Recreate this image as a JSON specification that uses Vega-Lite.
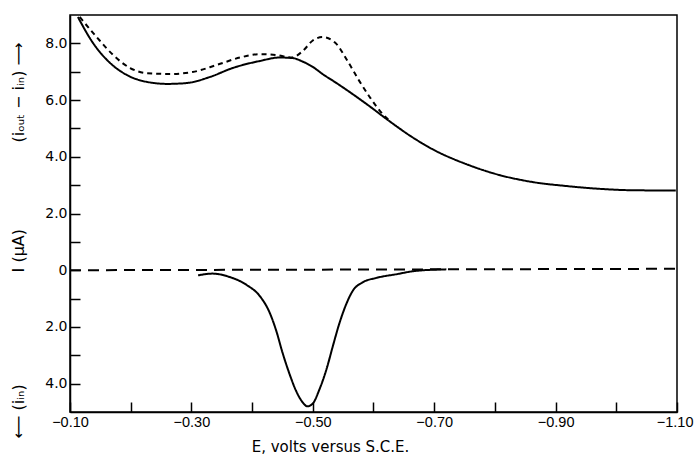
{
  "$schema": "https://vega.github.io/schema/vega-lite/v6.json",
  "width": 607,
  "height": 397,
  "autosize": {"type": "none"},
  "padding": {"left": 70, "top": 15, "right": 17, "bottom": 42},
  "background": "white",
  "config": {
    "view": {"stroke": "black", "strokeWidth": 1.5},
    "font": "DejaVu Sans",
    "axis": {
      "domainColor": "black", "domainWidth": 1.5,
      "tickColor": "black", "tickWidth": 1.5, "tickSize": -10,
      "labelColor": "black", "labelFont": "DejaVu Sans", "labelFontSize": 14,
      "titleColor": "black", "titleFont": "DejaVu Sans", "titleFontSize": 15, "titleFontWeight": "normal",
      "grid": false
    }
  },
  "data": {"values": [
    {"E": -0.113, "I": 8.93, "c": "outSolid"},
    {"E": -0.138, "I": 8.01, "c": "outSolid"},
    {"E": -0.166, "I": 7.31, "c": "outSolid"},
    {"E": -0.194, "I": 6.88, "c": "outSolid"},
    {"E": -0.227, "I": 6.64, "c": "outSolid"},
    {"E": -0.26, "I": 6.57, "c": "outSolid"},
    {"E": -0.292, "I": 6.6, "c": "outSolid"},
    {"E": -0.33, "I": 6.81, "c": "outSolid"},
    {"E": -0.368, "I": 7.13, "c": "outSolid"},
    {"E": -0.413, "I": 7.38, "c": "outSolid"},
    {"E": -0.445, "I": 7.5, "c": "outSolid"},
    {"E": -0.467, "I": 7.48, "c": "outSolid"},
    {"E": -0.483, "I": 7.36, "c": "outSolid"},
    {"E": -0.5, "I": 7.17, "c": "outSolid"},
    {"E": -0.516, "I": 6.92, "c": "outSolid"},
    {"E": -0.539, "I": 6.6, "c": "outSolid"},
    {"E": -0.561, "I": 6.28, "c": "outSolid"},
    {"E": -0.593, "I": 5.79, "c": "outSolid"},
    {"E": -0.626, "I": 5.26, "c": "outSolid"},
    {"E": -0.664, "I": 4.69, "c": "outSolid"},
    {"E": -0.697, "I": 4.27, "c": "outSolid"},
    {"E": -0.753, "I": 3.74, "c": "outSolid"},
    {"E": -0.807, "I": 3.36, "c": "outSolid"},
    {"E": -0.862, "I": 3.11, "c": "outSolid"},
    {"E": -0.917, "I": 2.97, "c": "outSolid"},
    {"E": -0.972, "I": 2.87, "c": "outSolid"},
    {"E": -1.026, "I": 2.82, "c": "outSolid"},
    {"E": -1.098, "I": 2.81, "c": "outSolid"},
    {"E": -0.116, "I": 8.93, "c": "outDashed"},
    {"E": -0.144, "I": 8.22, "c": "outDashed"},
    {"E": -0.171, "I": 7.59, "c": "outDashed"},
    {"E": -0.199, "I": 7.13, "c": "outDashed"},
    {"E": -0.227, "I": 6.95, "c": "outDashed"},
    {"E": -0.264, "I": 6.92, "c": "outDashed"},
    {"E": -0.302, "I": 6.99, "c": "outDashed"},
    {"E": -0.342, "I": 7.24, "c": "outDashed"},
    {"E": -0.38, "I": 7.5, "c": "outDashed"},
    {"E": -0.413, "I": 7.62, "c": "outDashed"},
    {"E": -0.44, "I": 7.59, "c": "outDashed"},
    {"E": -0.465, "I": 7.5, "c": "outDashed"},
    {"E": -0.483, "I": 7.72, "c": "outDashed"},
    {"E": -0.5, "I": 8.1, "c": "outDashed"},
    {"E": -0.516, "I": 8.22, "c": "outDashed"},
    {"E": -0.537, "I": 8.02, "c": "outDashed"},
    {"E": -0.558, "I": 7.35, "c": "outDashed"},
    {"E": -0.577, "I": 6.66, "c": "outDashed"},
    {"E": -0.595, "I": 6.07, "c": "outDashed"},
    {"E": -0.613, "I": 5.56, "c": "outDashed"},
    {"E": -0.628, "I": 5.24, "c": "outDashed"},
    {"E": -0.311, "I": -0.18, "c": "inSolid"},
    {"E": -0.335, "I": -0.12, "c": "inSolid"},
    {"E": -0.363, "I": -0.24, "c": "inSolid"},
    {"E": -0.391, "I": -0.52, "c": "inSolid"},
    {"E": -0.413, "I": -0.92, "c": "inSolid"},
    {"E": -0.429, "I": -1.5, "c": "inSolid"},
    {"E": -0.44, "I": -2.15, "c": "inSolid"},
    {"E": -0.45, "I": -2.9, "c": "inSolid"},
    {"E": -0.462, "I": -3.68, "c": "inSolid"},
    {"E": -0.473, "I": -4.28, "c": "inSolid"},
    {"E": -0.483, "I": -4.65, "c": "inSolid"},
    {"E": -0.491, "I": -4.8, "c": "inSolid"},
    {"E": -0.5, "I": -4.7, "c": "inSolid"},
    {"E": -0.511, "I": -4.2, "c": "inSolid"},
    {"E": -0.523, "I": -3.46, "c": "inSolid"},
    {"E": -0.533, "I": -2.68, "c": "inSolid"},
    {"E": -0.544, "I": -1.86, "c": "inSolid"},
    {"E": -0.556, "I": -1.15, "c": "inSolid"},
    {"E": -0.566, "I": -0.72, "c": "inSolid"},
    {"E": -0.582, "I": -0.43, "c": "inSolid"},
    {"E": -0.605, "I": -0.27, "c": "inSolid"},
    {"E": -0.638, "I": -0.14, "c": "inSolid"},
    {"E": -0.671, "I": -0.02, "c": "inSolid"},
    {"E": -0.72, "I": 0.03, "c": "inSolid"},
    {"E": -0.1, "I": 0.0, "c": "zero"},
    {"E": -1.1, "I": 0.05, "c": "zero"}
  ]},
  "mark": {"type": "line", "color": "black", "strokeWidth": 2, "interpolate": "monotone", "clip": true},
  "encoding": {
    "x": {
      "field": "E", "type": "quantitative",
      "scale": {"domain": [-1.1, -0.1], "reverse": true, "nice": false, "zero": false},
      "axis": {
        "values": [-0.1, -0.2, -0.3, -0.4, -0.5, -0.6, -0.7, -0.8, -0.9, -1.0, -1.1],
        "labelExpr": "abs(round(datum.value*10)) % 2 == 1 ? format(datum.value, '.2f') : ''",
        "labelFont": "Liberation Sans",
        "labelFontSize": 14.5,
        "labelPadding": 13,
        "labelFlush": false,
        "labelOverlap": false,
        "labelAlign": {"condition": {"test": "datum.value < -1.05", "value": "right"}, "value": "center"},
        "labelOffset": {"condition": {"test": "datum.value < -1.05", "value": 16}, "value": 0},
        "title": "E, volts versus S.C.E.",
        "titleX": 260, "titleY": 39, "titleBaseline": "alphabetic", "titleAnchor": null
      }
    },
    "y": {
      "field": "I", "type": "quantitative",
      "scale": {"domain": [-5, 9], "nice": false, "zero": false},
      "axis": {
        "values": [-4, -3, -2, -1, 0, 1, 2, 3, 4, 5, 6, 7, 8],
        "labelExpr": "datum.value % 2 == 0 ? (datum.value == 0 ? '0' : format(abs(datum.value), '.1f')) : ''",
        "labelPadding": 13,
        "labelFlush": false,
        "labelOverlap": false,
        "title": "⟵ (iᵢₙ)\u00a0\u00a0\u00a0\u00a0\u00a0\u00a0\u00a0\u00a0\u00a0\u00a0\u00a0\u00a0\u00a0\u00a0\u00a0\u00a0\u00a0\u00a0\u00a0\u00a0\u00a0\u00a0I (μA)\u00a0\u00a0\u00a0\u00a0\u00a0\u00a0\u00a0\u00a0\u00a0\u00a0\u00a0\u00a0\u00a0\u00a0\u00a0\u00a0\u00a0(iₒᵤₜ − iᵢₙ) ⟶",
        "titleFontSize": 16,
        "titleX": -52, "titleY": 225, "titleAlign": "center", "titleBaseline": "middle", "titleAngle": -90
      }
    },
    "strokeDash": {
      "field": "c", "type": "nominal",
      "scale": {"domain": ["outSolid", "outDashed", "inSolid", "zero"], "range": [[1, 0], [5, 4], [1, 0], [11, 7]]},
      "legend": null
    }
  }
}
